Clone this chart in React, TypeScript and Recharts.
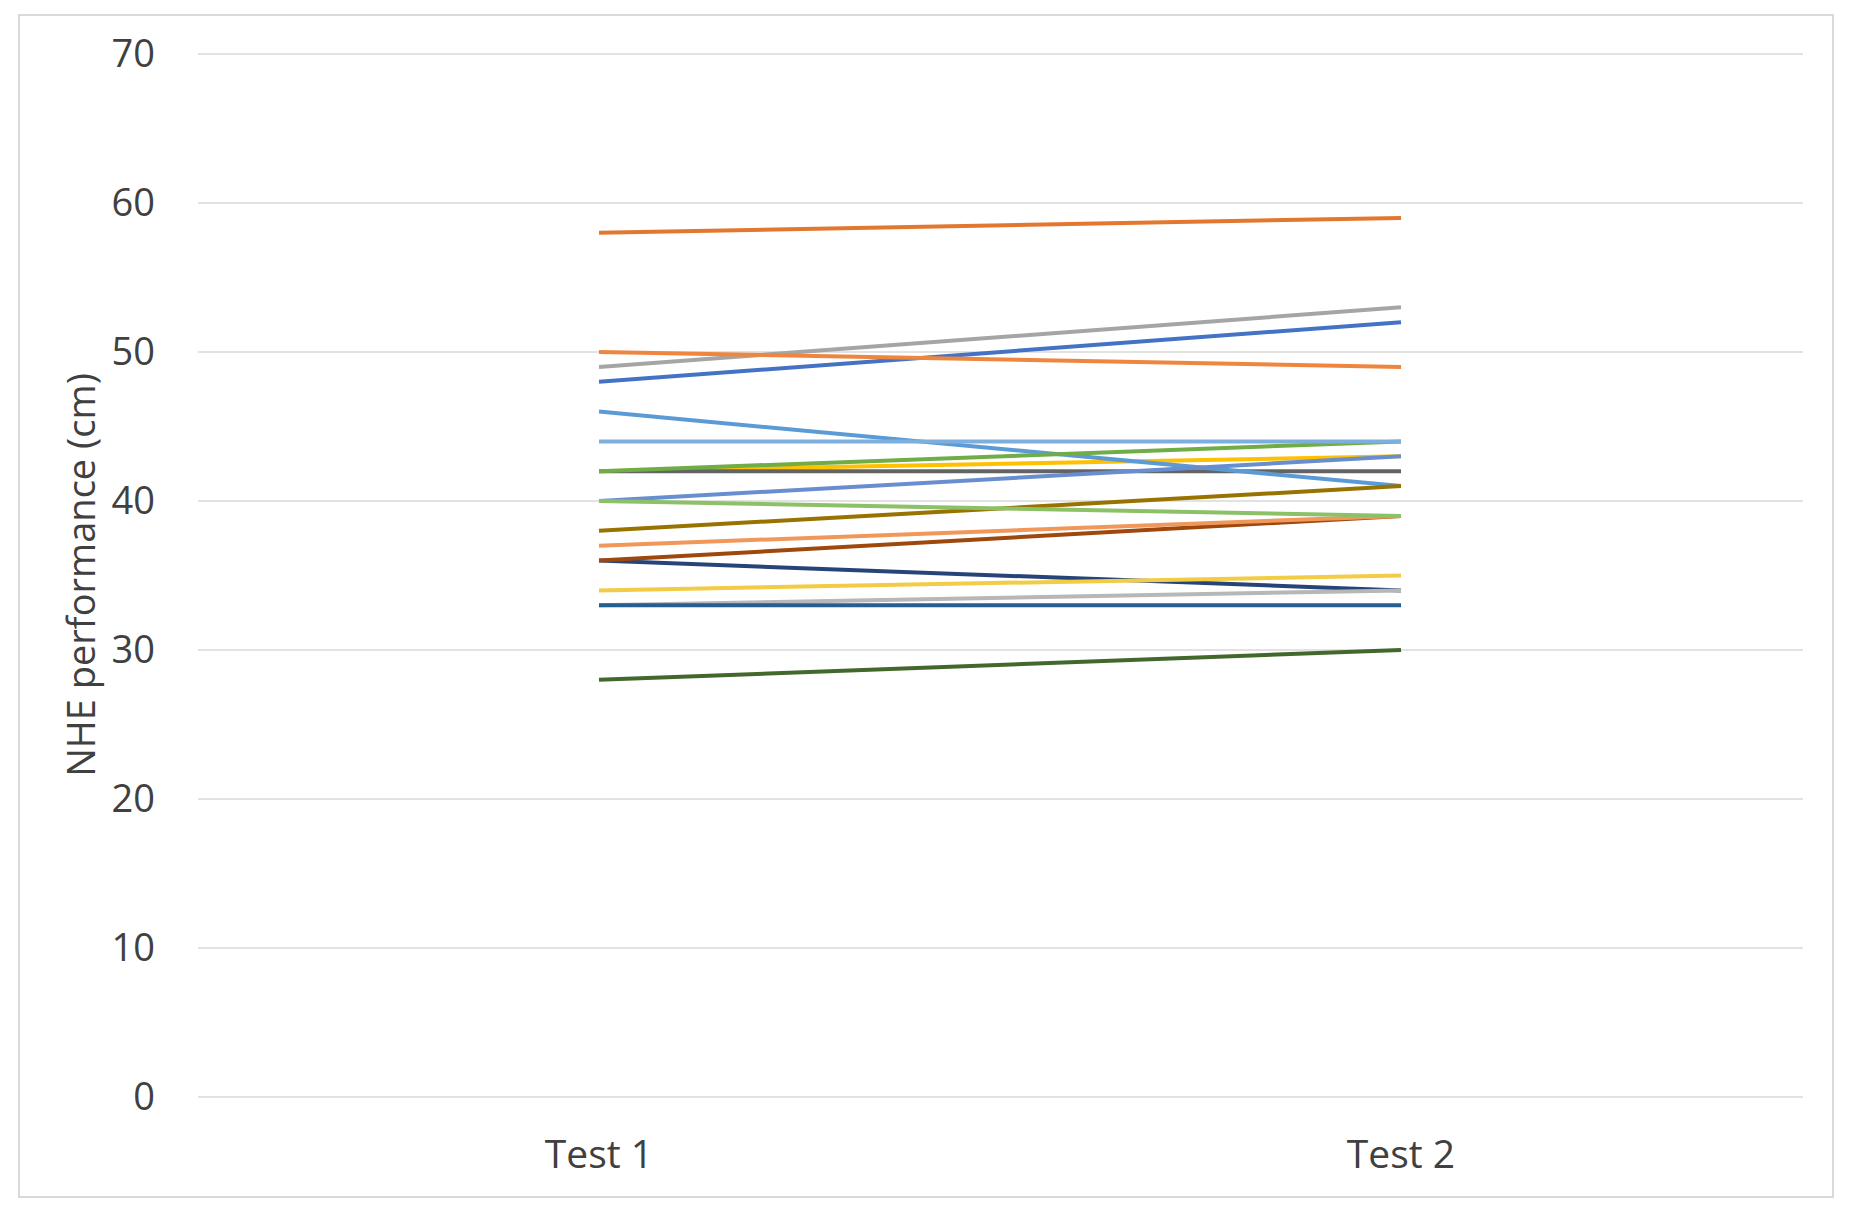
import { LineChart, Line, XAxis, YAxis, CartesianGrid } from "recharts";

const categories = ["Test 1", "Test 2"];

// one entry per participant
const test1 = [48, 58, 49, 42, 42, 46, 42, 36, 36, 38, 28, 40, 37, 33, 34, 44, 40, 50, 33];
const test2 = [52, 59, 53, 43, 42, 41, 44, 34, 39, 41, 30, 43, 39, 34, 35, 44, 39, 49, 33];

const lineColors = [
  "#4472C4", "#E3772F", "#A5A5A5", "#FFC000", "#636363", "#5B9BD5", "#70AD47",
  "#264478", "#9E480E", "#997300", "#43682B", "#698ED0", "#F1975A", "#B7B7B7",
  "#F2CC45", "#7CAFDD", "#8CC168", "#EE8640", "#255E91",
];

const yTicks = [0, 10, 20, 30, 40, 50, 60, 70];

const data = categories.map((name, i) => {
  const row: Record<string, string | number> = { name };
  const vals = i === 0 ? test1 : test2;
  vals.forEach((v, j) => {
    row[`p${j}`] = v;
  });
  return row;
});

const font = "'Open Sans', 'Noto Sans', sans-serif";
const textColor = "#404040";

function AxisTitle() {
  return (
    <text
      x={80}
      y={575}
      transform="rotate(-90 80 575)"
      textAnchor="middle"
      dominantBaseline="central"
      fontFamily={font}
      fontSize={38}
      fill={textColor}
    >
      NHE performance (cm)
    </text>
  );
}

export default function App() {
  return (
    <div style={{ position: "absolute", left: 0, top: 0, width: 1851, height: 1215, background: "#fff" }}>
      <div
        style={{
          position: "absolute",
          left: 18,
          top: 14,
          width: 1812,
          height: 1180,
          border: "2px solid #d9d9d9",
        }}
      />
      <div style={{ position: "absolute", left: 0, top: 0 }}>
        <LineChart
          width={1851}
          height={1215}
          data={data}
          margin={{ top: 54, right: 48, left: 0, bottom: 58 }}
        >
          <CartesianGrid vertical={false} stroke="#d9d9d9" strokeWidth={1.5} />
          <XAxis
            dataKey="name"
            axisLine={false}
            tickLine={false}
            height={60}
            tickMargin={37}
            padding={{ left: 401, right: 402 }}
            tick={{ fontSize: 39, fontFamily: font, fill: textColor }}
          />
          <YAxis
            domain={[0, 70]}
            ticks={yTicks}
            width={198}
            axisLine={false}
            tickLine={false}
            tickMargin={37}
            tick={{ fontSize: 38, fontFamily: font, fill: textColor }}
            label={{ content: () => <AxisTitle /> }}
          />
          {test1.map((_, j) => (
            <Line
              key={j}
              type="linear"
              dataKey={`p${j}`}
              stroke={lineColors[j]}
              strokeWidth={4}
              dot={false}
              activeDot={false}
              isAnimationActive={false}
            />
          ))}
        </LineChart>
      </div>
    </div>
  );
}
